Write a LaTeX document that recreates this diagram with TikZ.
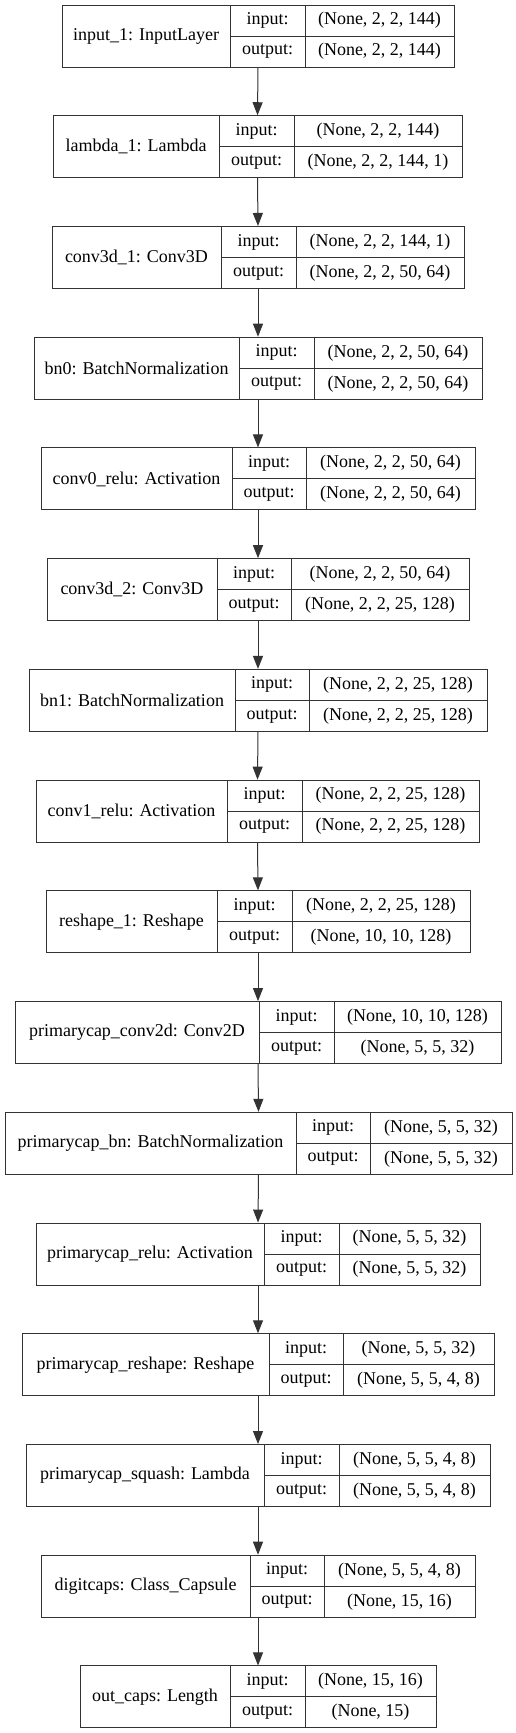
\documentclass[tikz,border=0pt]{standalone}
\usepackage{fontspec}
\setmainfont{Liberation Serif}
\usetikzlibrary{arrows.meta}

\begin{document}
\begin{tikzpicture}[x=1pt, y=1pt,
    cell/.style={draw=black!80, line width=1pt, inner sep=0pt, font=\fontsize{18}{20}\selectfont},
    layer/.style={line width=1pt, inner sep=0pt, minimum height=62pt},
    flow/.style={draw=black!80, line width=1pt, -{Triangle[length=13pt, width=10pt]}}]
    \fill[white] (0,0) rectangle (516,-1733);
    \useasboundingbox (0,0) rectangle (516,-1733);
    % one layer per row: name / cell edges / input shape / output shape
    \foreach \i/\nm/\lx/\ax/\bx/\rx/\vi/\vo in {
        1/{input\_1: InputLayer}/62/230/305/454/{(None, 2, 2, 144)}/{(None, 2, 2, 144)},
        2/{lambda\_1: Lambda}/53/219/294/462/{(None, 2, 2, 144)}/{(None, 2, 2, 144, 1)},
        3/{conv3d\_1: Conv3D}/52/221/296/464/{(None, 2, 2, 144, 1)}/{(None, 2, 2, 50, 64)},
        4/{bn0: BatchNormalization}/34/239/314/482/{(None, 2, 2, 50, 64)}/{(None, 2, 2, 50, 64)},
        5/{conv0\_relu: Activation}/41/232/306/475/{(None, 2, 2, 50, 64)}/{(None, 2, 2, 50, 64)},
        6/{conv3d\_2: Conv3D}/47/217/291/469/{(None, 2, 2, 50, 64)}/{(None, 2, 2, 25, 128)},
        7/{bn1: BatchNormalization}/29/235/309/487/{(None, 2, 2, 25, 128)}/{(None, 2, 2, 25, 128)},
        8/{conv1\_relu: Activation}/36/227/302/479/{(None, 2, 2, 25, 128)}/{(None, 2, 2, 25, 128)},
        9/{reshape\_1: Reshape}/46/217/292/470/{(None, 2, 2, 25, 128)}/{(None, 10, 10, 128)},
        10/{primarycap\_conv2d: Conv2D}/15/259/334/501/{(None, 10, 10, 128)}/{(None, 5, 5, 32)},
        11/{primarycap\_bn: BatchNormalization}/5/296/370/512/{(None, 5, 5, 32)}/{(None, 5, 5, 32)},
        12/{primarycap\_relu: Activation}/36/264/339/480/{(None, 5, 5, 32)}/{(None, 5, 5, 32)},
        13/{primarycap\_reshape: Reshape}/22/269/343/494/{(None, 5, 5, 32)}/{(None, 5, 5, 4, 8)},
        14/{primarycap\_squash: Lambda}/26/264/339/490/{(None, 5, 5, 4, 8)}/{(None, 5, 5, 4, 8)},
        15/{digitcaps: Class\_Capsule}/41/250/324/475/{(None, 5, 5, 4, 8)}/{(None, 15, 16)},
        16/{out\_caps: Length}/80/230/305/436/{(None, 15, 16)}/{(None, 15)}}{
        \pgfmathsetmacro\tp{5+(\i-1)*110.73} % top edge of the row
        \node[layer, minimum width={(\rx-\lx)*1pt}] (box\i) at ({(\lx+\rx)/2},{-\tp-31}) {};
        \node[cell, minimum width={(\ax-\lx)*1pt}, minimum height=62pt] (name\i) at ({(\lx+\ax)/2},{-\tp-31}) {\nm};
        \node[cell, minimum width={(\bx-\ax)*1pt}, minimum height=31pt] (in\i) at ({(\ax+\bx)/2},{-\tp-15.5}) {input:};
        \node[cell, minimum width={(\bx-\ax)*1pt}, minimum height=31pt] (out\i) at ({(\ax+\bx)/2},{-\tp-46.5}) {output:};
        \node[cell, minimum width={(\rx-\bx)*1pt}, minimum height=31pt] (inval\i) at ({(\bx+\rx)/2},{-\tp-15.5}) {\vi};
        \node[cell, minimum width={(\rx-\bx)*1pt}, minimum height=31pt] (outval\i) at ({(\bx+\rx)/2},{-\tp-46.5}) {\vo};
    }
    \foreach \i [evaluate=\i as \j using int(\i+1)] in {1,...,15}
        \draw[flow] (box\i.south) -- (box\j.north);
\end{tikzpicture}
\end{document}
